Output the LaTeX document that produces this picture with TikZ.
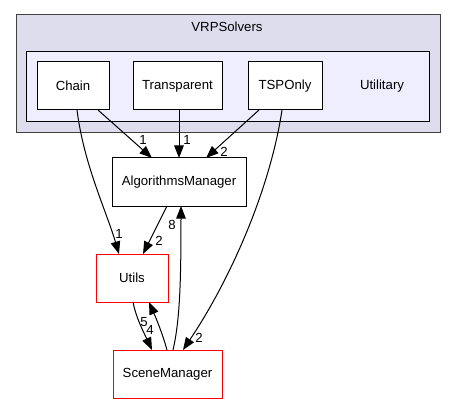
\documentclass[tikz,border=0pt]{standalone}
\usepackage{fontspec}
\setmainfont{Liberation Sans}
\usetikzlibrary{arrows.meta,calc}
\definecolor{outerfill}{HTML}{DDDDEE}
\definecolor{innerfill}{HTML}{EEEEFF}
\definecolor{clborder}{HTML}{404040}
\begin{document}
\begin{tikzpicture}[x=1pt,y=-1pt,
  every node/.style={font=\fontsize{13.2}{15}\selectfont, inner sep=0pt, outer sep=0pt},
  dirbox/.style={draw=black, fill=white, line width=1pt, minimum height=48pt},
  redbox/.style={draw=red, fill=white, line width=1pt, minimum height=48pt},
  dep/.style={draw=black, line width=1pt, -{Triangle[length=12.5pt,width=9.5pt]}},
  lbl/.style={font=\fontsize{13.2}{15}\selectfont}]
\useasboundingbox (0,0) rectangle (456,404);
% clusters
\node[draw=clborder, fill=outerfill, line width=1pt, minimum width=424pt, minimum height=118pt] (vrp) at (228,74) {};
\node (vrptitle) at (227,27) {VRPSolvers};
\node[draw=black, fill=innerfill, line width=1pt, minimum width=403pt, minimum height=70pt] (util) at (227.5,87) {};
\node (utiltitle) at (382,86) {Utilitary};
% nodes
\node[dirbox, minimum width=72pt] (chain) at (73,86) {Chain};
\node[dirbox, minimum width=89pt] (transp) at (177.5,86) {Transparent};
\node[dirbox, minimum width=74pt] (tsp) at (285,86) {TSPOnly};
\node[dirbox, minimum width=134pt] (alg) at (179,182) {AlgorithmsManager};
\node[redbox, minimum width=72pt] (utils) at (132,278) {Utils};
\node[redbox, minimum width=109pt] (scene) at (167.5,374) {SceneManager};
% edges
\draw[dep] ([xshift=25pt]chain.south) -- ([xshift=-27pt]alg.north);
\node[lbl] (l1) at (143,140) {1};
\draw[dep] ([xshift=1.5pt]transp.south) -- ([xshift=0pt]alg.north);
\node[lbl] (l2) at (187,140) {1};
\draw[dep] ([xshift=-26pt]tsp.south) -- ([xshift=27pt]alg.north);
\node[lbl] (l3) at (224,152) {2};
\draw[dep] ([xshift=4pt]chain.south) .. controls (84,165) and (106,210) .. ([xshift=-13pt]utils.north);
\node[lbl] (l4) at (119,234) {1};
\draw[dep] ([xshift=-3pt]tsp.south) .. controls (270,190) and (230,280) .. ([xshift=15.5pt]scene.north);
\node[lbl] (l5) at (199,338) {2};
\draw[dep] ([xshift=-12pt]alg.south) -- ([xshift=11pt]utils.north);
\node[lbl] (l6) at (159,241) {2};
\draw[dep] ([xshift=5.5pt]scene.north) .. controls (180,320) and (181,280) .. ([xshift=2pt]alg.south);
\node[lbl] (l7) at (172,225) {8};
\draw[dep] ([xshift=1pt]utils.south) .. controls (136,318) and (145,335) .. ([xshift=-15.5pt]scene.north);
\node[lbl] (l8) at (150,330) {4};
\draw[dep] ([xshift=-0.5pt]scene.north) .. controls (163,335) and (156,318) .. ([xshift=17pt]utils.south);
\node[lbl] (l9) at (144,322) {5};
\end{tikzpicture}
\end{document}
